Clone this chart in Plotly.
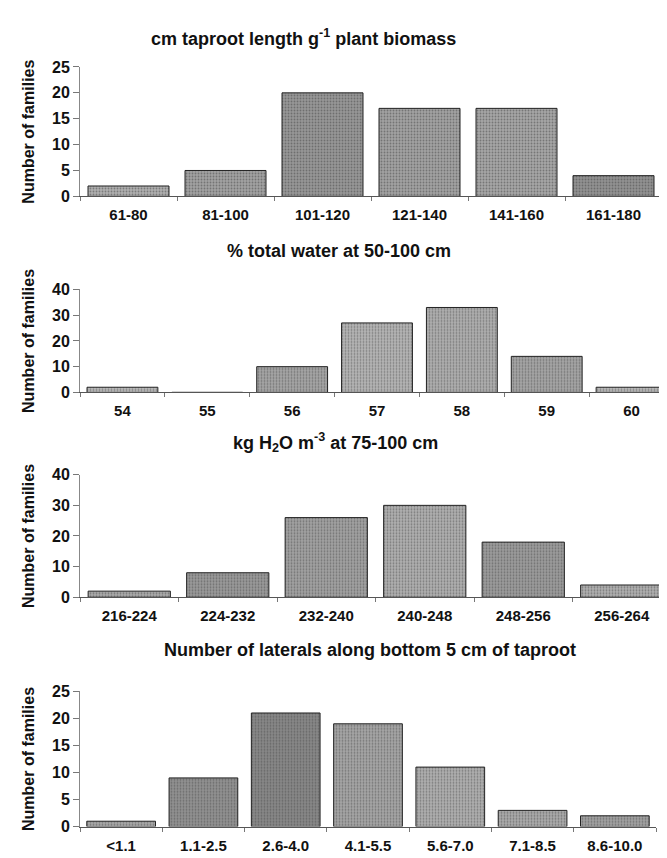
import plotly.graph_objects as go

# ---- data ----
cats1 = ["61-80", "81-100", "101-120", "121-140", "141-160", "161-180"]
vals1 = [2, 5, 20, 17, 17, 4]

cats2 = ["54", "55", "56", "57", "58", "59", "60"]
vals2 = [2, 0, 10, 27, 33, 14, 2]

cats3 = ["216-224", "224-232", "232-240", "240-248", "248-256", "256-264"]
vals3 = [2, 8, 26, 30, 18, 4]

cats4 = ["<1.1", "1.1-2.5", "2.6-4.0", "4.1-5.5", "5.6-7.0", "7.1-8.5", "8.6-10.0"]
vals4 = [1, 9, 21, 19, 11, 3, 2]

titles = [
    "cm taproot length g<sup>-1</sup> plant biomass",
    "% total water at 50-100 cm",
    "kg H<sub>2</sub>O m<sup>-3</sup> at 75-100 cm",
    "Number of laterals along bottom 5 cm of taproot",
]
ytitle = "Number of families"

# bar shading (scanned stipple tones)
shades1 = ["#b0b0b0", "#a2a2a2", "#979797", "#a2a2a2", "#a6a6a6", "#929292"]
shades2 = ["#bababa", "#bababa", "#a6a6a6", "#b6b6b6", "#b0b0b0", "#a6a6a6", "#bababa"]
shades3 = ["#ababab", "#9a9a9a", "#a2a2a2", "#b0b0b0", "#9c9c9c", "#b0b0b0"]
shades4 = ["#a8a8a8", "#929292", "#888888", "#a6a6a6", "#b0b0b0", "#ababab", "#a2a2a2"]

W, H = 667, 858
FONT = "Arial, Liberation Sans, sans-serif"

# panel geometry in pixels: (x0, x1, ytop, ybottom, ymax, dtick, title_x, title_y)
panels = [
    (cats1, vals1, shades1, 72, 654, 52, 184, 25, 5, 295, 22),
    (cats2, vals2, shades2, 72, 666, 279, 384, 40, 10, 331, 240),
    (cats3, vals3, shades3, 72, 663, 468, 593, 40, 10, 327, 435),
    (cats4, vals4, shades4, 72, 648, 689, 827, 25, 5, 362, 647),
]

fig = go.Figure()
annotations = []
for i, (cats, vals, shades, x0, x1, yt, yb, ymax, dt, tx, ty) in enumerate(panels, start=1):
    xa = "x" if i == 1 else f"x{i}"
    ya = "y" if i == 1 else f"y{i}"
    fig.add_trace(go.Bar(
        x=cats, y=vals, xaxis=xa, yaxis=ya,
        marker=dict(
            color=shades,
            line=dict(color="#222222", width=1),
            pattern=dict(shape=".", fgcolor="#666666", bgcolor=shades,
                         size=3, solidity=0.3),
        ),
        showlegend=False, hoverinfo="x+y",
    ))
    xkey = "xaxis" if i == 1 else f"xaxis{i}"
    ykey = "yaxis" if i == 1 else f"yaxis{i}"
    fig.layout[xkey] = dict(
        domain=[x0 / W, x1 / W], anchor=ya, type="category",
        showline=True, linecolor="#555555", linewidth=1,
        ticks="outside", tickson="boundaries", ticklen=4, tickcolor="#777777",
        tickfont=dict(family=FONT, size=15, color="#111111", weight="bold"),
        ticklabelstandoff=5,
        showgrid=False, zeroline=False, fixedrange=True,
    )
    fig.layout[ykey] = dict(
        domain=[1 - yb / H, 1 - yt / H], anchor=xa,
        range=[0, ymax], dtick=dt, tick0=0,
        showline=True, linecolor="#888888", linewidth=1,
        ticks="outside", ticklen=6, tickcolor="#777777",
        tickfont=dict(family=FONT, size=16, color="#111111", weight="bold"),
        showgrid=False, zeroline=False, fixedrange=True,
    )
    annotations.append(dict(
        text=titles[i - 1], x=tx / W, y=1 - ty / H, xref="paper", yref="paper",
        xanchor="center", yanchor="middle", showarrow=False,
        font=dict(family=FONT, size=18, color="#111111", weight="bold"),
    ))
    annotations.append(dict(
        text=ytitle, x=21 / W, y=1 - (yt + yb) / 2 / H, xref="paper", yref="paper",
        xanchor="center", yanchor="middle", showarrow=False, textangle=-90,
        font=dict(family=FONT, size=16, color="#111111", weight="bold"),
    ))

fig.update_layout(
    width=W, height=H, margin=dict(l=0, r=0, t=0, b=0),
    paper_bgcolor="white", plot_bgcolor="white",
    bargap=0.165, annotations=annotations,
)

fig.write_html("out.html")
